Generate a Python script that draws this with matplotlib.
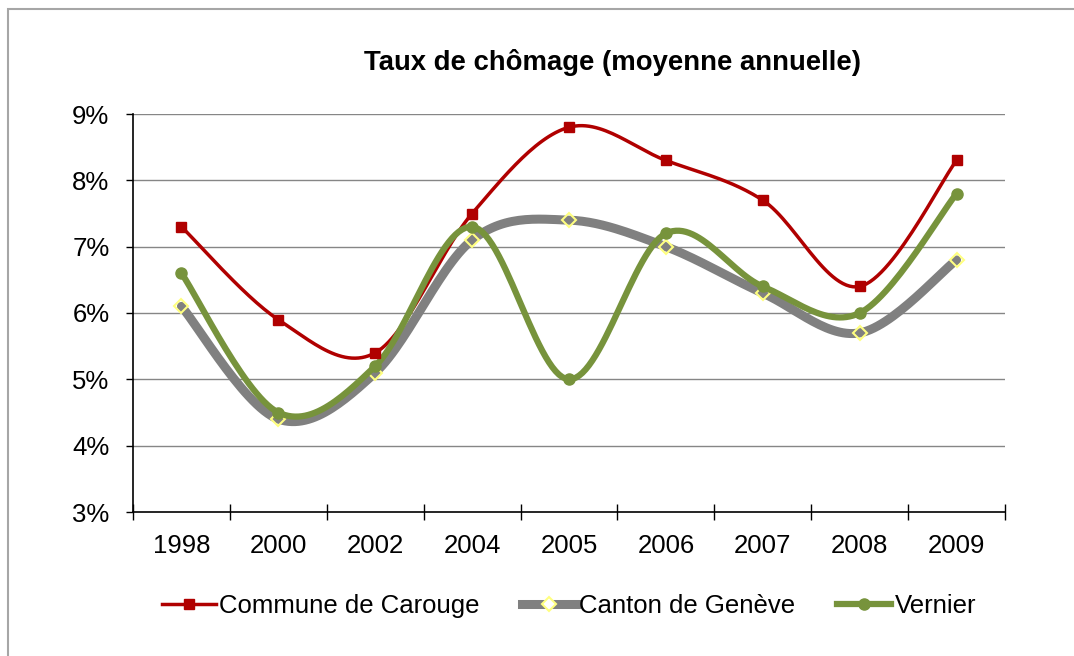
import numpy as np
import matplotlib
matplotlib.use('Agg')
import matplotlib.pyplot as plt
from matplotlib.patches import Rectangle
from matplotlib.lines import Line2D

plt.rcParams['font.family'] = ['Liberation Sans', 'DejaVu Sans']

years = ['1998', '2000', '2002', '2004', '2005', '2006', '2007', '2008', '2009']
carouge = [7.3, 5.9, 5.4, 7.5, 8.8, 8.3, 7.7, 6.4, 8.3]
geneve = [6.1, 4.4, 5.1, 7.1, 7.4, 7.0, 6.3, 5.7, 6.8]
vernier = [6.6, 4.5, 5.2, 7.3, 5.0, 7.2, 6.4, 6.0, 7.8]


def smooth(x, y, n=30):
    # excel-like smoothed line (catmull-rom through the points)
    x = np.asarray(x, float)
    y = np.asarray(y, float)
    px = np.concatenate([[x[0]], x, [x[-1]]])
    py = np.concatenate([[y[0]], y, [y[-1]]])
    xs, ys = [], []
    t = np.linspace(0, 1, n)
    for i in range(1, len(px) - 2):
        p0x, p1x, p2x, p3x = px[i - 1], px[i], px[i + 1], px[i + 2]
        p0y, p1y, p2y, p3y = py[i - 1], py[i], py[i + 1], py[i + 2]
        c1x = p1x + (p2x - p0x) / 6
        c1y = p1y + (p2y - p0y) / 6
        c2x = p2x - (p3x - p1x) / 6
        c2y = p2y - (p3y - p1y) / 6
        bx = (1 - t)**3 * p1x + 3 * (1 - t)**2 * t * c1x + 3 * (1 - t) * t**2 * c2x + t**3 * p2x
        by = (1 - t)**3 * p1y + 3 * (1 - t)**2 * t * c1y + 3 * (1 - t) * t**2 * c2y + t**3 * p2y
        xs.extend(bx)
        ys.extend(by)
    return np.array(xs), np.array(ys)


fig = plt.figure(figsize=(10.74, 6.56), dpi=100)
ax = fig.add_axes([133/1074, 1-512/656, (1005-133)/1074, (512-114)/656])

x = np.arange(len(years)) + 0.5

red = '#B00000'
gray = '#808080'
green = '#77933C'

sx, sy = smooth(x, carouge)
ax.plot(sx, sy, color=red, lw=2.5, zorder=3)
ax.plot(x, carouge, 's', color=red, ms=7, zorder=4)

sx, sy = smooth(x, geneve)
ax.plot(sx, sy, color=gray, lw=6.5, zorder=2, solid_capstyle='round')
ax.plot(x, geneve, 'D', mfc='none', mec='#FFFF80', mew=1.5, ms=7, zorder=2.5)

sx, sy = smooth(x, vernier)
ax.plot(sx, sy, color=green, lw=4.5, zorder=3, solid_capstyle='round')
ax.plot(x, vernier, 'o', color=green, ms=8, zorder=3.5)

ax.set_xlim(0, len(years))
ax.set_ylim(3, 9)
ax.set_yticks(range(3, 10))
ax.set_yticklabels(['%d%%' % v for v in range(3, 10)], fontsize=18.5)
ax.set_xticks(np.arange(len(years) + 1))
ax.set_xticklabels([])
ax.set_xticks(x, minor=True)
ax.set_xticklabels(years, minor=True, fontsize=18.5)
ax.tick_params(axis='x', which='major', direction='inout', length=11, width=1)
ax.tick_params(axis='x', which='minor', length=0, pad=16)
ax.tick_params(axis='y', direction='out', length=5, width=1, pad=12)

for v in range(4, 10):
    ax.axhline(v, color='#868686', lw=1, zorder=1)

for s in ['top', 'right']:
    ax.spines[s].set_visible(False)
ax.spines['left'].set_linewidth(1.2)
ax.spines['bottom'].set_linewidth(1.2)

fig.text(613/1074, 1-63/656, 'Taux de chômage (moyenne annuelle)', ha='center', va='center',
         fontsize=19.8, fontweight='bold')

handles = [
    Line2D([], [], color=red, lw=2.5, marker='s', ms=7),
    Line2D([], [], color=gray, lw=6.5, marker='D', mfc='white', mec='#FFFF80', mew=1.5, ms=7),
    Line2D([], [], color=green, lw=4.5, marker='o', ms=8),
]
fig.legend(handles, ['Commune de Carouge', 'Canton de Genève', 'Vernier'], ncol=3,
           loc='center', bbox_to_anchor=(569/1074, 1-606/656), frameon=False, fontsize=18.5,
           handlelength=2.1, handletextpad=0.12, columnspacing=1.65)

fig.patches.append(Rectangle((8/1074, -0.1), 1.2, 1.1 - 9/656, transform=fig.transFigure,
                             fill=False, ec='#A6A6A6', lw=1.5))

fig.savefig('out.png', dpi=100)
